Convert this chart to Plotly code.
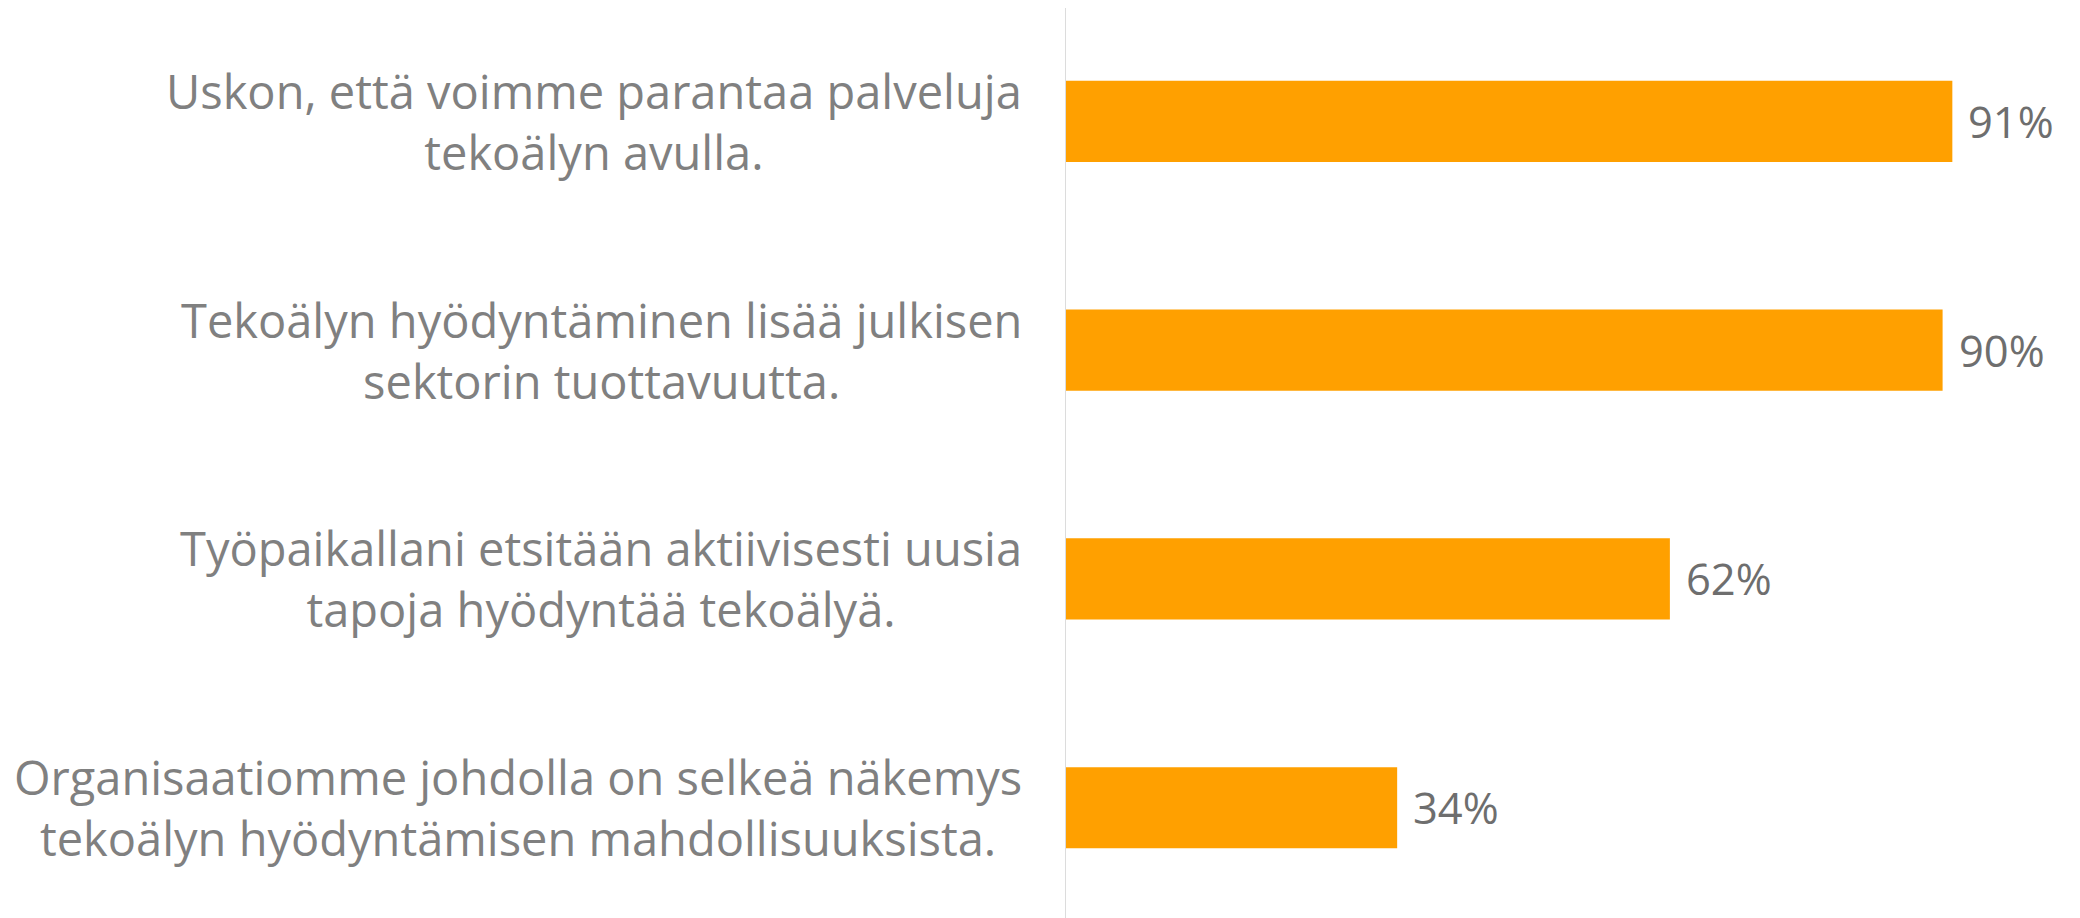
import plotly.graph_objects as go

categories = [
    "Uskon, että voimme parantaa palveluja<br>tekoälyn avulla.",
    "Tekoälyn hyödyntäminen lisää julkisen<br>sektorin tuottavuutta.",
    "Työpaikallani etsitään aktiivisesti uusia<br>tapoja hyödyntää tekoälyä.",
    "Organisaatiomme johdolla on selkeä näkemys<br>tekoälyn hyödyntämisen mahdollisuuksista.",
]
values = [91, 90, 62, 34]
value_labels = [f"{v}%" for v in values]

BAR = "#FFA000"
LABEL = "#808080"
VALUE = "#6e6e6e"
FONT = "Open Sans"

fig = go.Figure()
fig.add_trace(go.Bar(
    x=values, y=categories, orientation="h",
    marker=dict(color=BAR, line=dict(width=0)),
    width=0.355, hoverinfo="skip",
))

annotations = []
for c in categories:
    annotations.append(dict(
        x=0, y=c, xref="paper", yref="y", text=c, showarrow=False,
        xanchor="right", yanchor="middle", align="center", xshift=-42,
        font=dict(family=FONT, size=47, color=LABEL),
    ))
for c, v, t in zip(categories, values, value_labels):
    annotations.append(dict(
        x=v, y=c, xref="x", yref="y", text=t, showarrow=False,
        xanchor="left", yanchor="middle", xshift=14,
        font=dict(family=FONT, size=43.5, color=VALUE),
    ))

fig.update_layout(
    width=2080, height=918,
    margin=dict(l=1058, r=48, t=0, b=0),
    paper_bgcolor="white", plot_bgcolor="white",
    showlegend=False,
    xaxis=dict(range=[0, 100], visible=False, showgrid=False, zeroline=False),
    yaxis=dict(range=[3.517, -0.496], showticklabels=False, showgrid=False,
               zeroline=False, showline=True, linecolor="#dcdcdc", linewidth=1,
               ticks=""),
    annotations=annotations,
)

fig.write_html("out.html")
